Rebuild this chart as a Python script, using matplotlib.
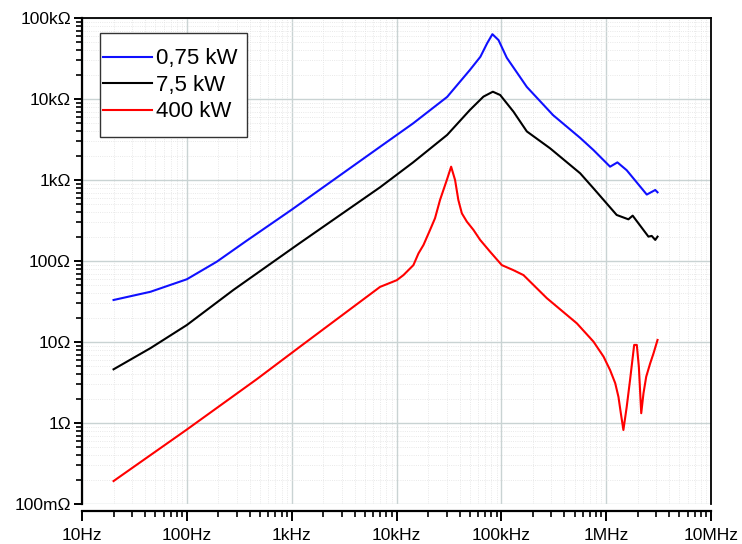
import matplotlib
matplotlib.use("Agg")
import matplotlib.pyplot as plt
from matplotlib.patches import Rectangle
from matplotlib.ticker import LogLocator, FixedLocator, NullFormatter

# ---- data ----
f_blue = [20, 45, 100, 193, 372, 721, 1000, 6970, 14400, 30400, 50100,
          63100, 73300, 82200, 94000, 112700, 175000, 312000, 565000, 757000,
          1090000, 1280000, 1570000, 2440000, 2940000, 3090000]
z_blue = [33, 41.7, 59.5, 98, 178, 321, 430, 2570, 5000, 10600, 22800,
          33200, 48900, 63100, 53400, 32300, 14100, 6310, 3310, 2340,
          1460, 1650, 1320, 661, 753, 705]

f_black = [20, 45, 100, 278, 1160, 6970, 14400, 30400, 50100, 67500, 83000,
           97500, 130600, 175000, 292000, 565000, 757000, 1260000, 1630000,
           1790000, 2530000, 2720000, 2940000, 3090000]
z_black = [4.6, 8.4, 16.2, 43.9, 162, 813, 1650, 3600, 7310, 10700, 12300,
           11200, 6970, 3980, 2460, 1210, 789, 370, 327,
           363, 200, 204, 182, 200]

f_red = [20, 100, 464, 1200, 6970, 10070, 11650, 14500, 16200, 18100, 20900,
         23300, 26000, 30200, 33200, 36200, 38900, 42000, 46900, 54200, 62800,
         78200, 101000, 130600, 162600, 272000, 364000, 525000, 757000, 944000,
         1090000, 1220000, 1310000, 1380000, 1460000, 1570000, 1690000,
         1850000, 1960000, 2050000, 2160000, 2270000, 2410000, 2630000,
         2830000, 3090000]
z_red = [0.192, 0.83, 3.47, 8.75, 47.9, 58, 67, 89, 124, 158, 242,
         337, 566, 1000, 1460, 1000, 566, 388, 306, 242, 182,
         130, 89, 77, 67, 34.7, 25.3, 17, 10.1, 6.6,
         4.5, 3.1, 2.1, 1.32, 0.82, 1.58, 3.4,
         9.2, 9.2, 4.95, 1.32, 2.33, 3.73, 5.46,
         7.25, 10.6]

labels = ["0,75 kW", "7,5 kW", "400 kW"]
colors = ["#1010ff", "#000000", "#ff0000"]

x_ticks = [10, 100, 1e3, 1e4, 1e5, 1e6, 1e7]
x_labels = ["10Hz", "100Hz", "1kHz", "10kHz", "100kHz", "1MHz", "10MHz"]
y_ticks = [0.1, 1, 10, 100, 1e3, 1e4, 1e5]
y_labels = ["100m\u03a9", "1\u03a9", "10\u03a9", "100\u03a9", "1k\u03a9", "10k\u03a9", "100k\u03a9"]

plt.rcParams['font.family'] = ['Liberation Sans', 'DejaVu Sans']

fig = plt.figure(figsize=(7.42, 5.44), dpi=100)
ax = fig.add_axes([82/742, 1-504/544, (711-82)/742, (504-18)/544])

for fx, zx, lab, col in zip([f_blue, f_black, f_red], [z_blue, z_black, z_red], labels, colors):
    ax.plot(fx, zx, color=col, lw=1.5, label=lab, solid_joinstyle='round')

ax.set_xscale('log')
ax.set_yscale('log')
ax.set_xlim(10, 1e7)
ax.set_ylim(0.1, 1e5)

ax.xaxis.set_major_locator(FixedLocator(x_ticks))
ax.set_xticklabels(x_labels)
ax.yaxis.set_major_locator(FixedLocator(y_ticks))
ax.set_yticklabels(y_labels)
ax.xaxis.set_minor_locator(LogLocator(base=10, subs=range(2, 10), numticks=20))
ax.yaxis.set_minor_locator(LogLocator(base=10, subs=range(2, 10), numticks=20))
ax.xaxis.set_minor_formatter(NullFormatter())
ax.yaxis.set_minor_formatter(NullFormatter())

ax.grid(True, which='major', color='#c9d3d3', lw=1.0)
ax.grid(True, which='minor', color='#e2e2e2', lw=0.6, ls=':')
ax.set_axisbelow(True)

ax.spines['bottom'].set_position(('outward', 5))
ax.spines['bottom'].set_linewidth(1.6)
ax.spines['left'].set_linewidth(1.6)
ax.spines['top'].set_linewidth(1.3)
ax.spines['right'].set_linewidth(1.3)

ax.tick_params(axis='both', which='major', direction='out', length=6, width=1.4,
               labelsize=12.5, colors='black')
ax.tick_params(axis='both', which='minor', direction='out', length=4, width=1.2)
ax.tick_params(axis='y', which='major', pad=2)
ax.tick_params(axis='x', which='major', length=7, pad=5)

# legend box (drawn separately to get its tall, narrow padding)
box = Rectangle(((100-82)/629, 1-(137-18)/486), (247-100)/629, (137-33)/486,
                transform=ax.transAxes, facecolor='white', edgecolor='#333333',
                lw=1.0, zorder=4)
ax.add_patch(box)
leg = ax.legend(loc='upper left', bbox_to_anchor=((99.7-82)/629, 1-(45-18)/486),
                fontsize=16, frameon=False, borderaxespad=0, handlelength=2.2,
                handletextpad=0.2, labelspacing=0.25, borderpad=0.15)
leg.set_zorder(5)

fig.savefig("out.png", dpi=100)
